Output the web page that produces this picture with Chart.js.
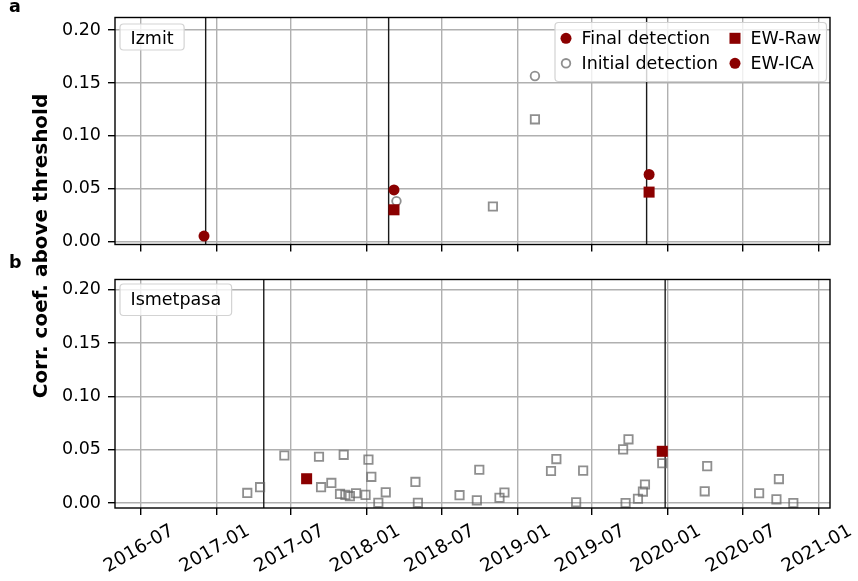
<!DOCTYPE html>
<html>
<head>
<meta charset="utf-8">
<script src="https://cdn.jsdelivr.net/npm/chart.js@4.4.1/dist/chart.umd.min.js"></script>
<style>
  html, body { margin: 0; padding: 0; background: #fff; }
  #wrap { position: relative; width: 858px; height: 581px; font-family: "DejaVu Sans", sans-serif; color: #000; }
  canvas { position: absolute; left: 0; }
  #cA { top: 0; }
  #cB { top: 262px; }
  .tag { position: absolute; font-weight: bold; font-size: 17.5px; line-height: 17px; }
  #ytitle { position: absolute; left: 40px; top: 246px; transform: translate(-50%, -50%) rotate(-90deg);
            white-space: nowrap; font-weight: bold; font-size: 20px; line-height: 22px; }
</style>
</head>
<body>
<div id="wrap">
  <canvas id="cA" width="858" height="262"></canvas>
  <canvas id="cB" width="858" height="319"></canvas>
  <div class="tag" style="left:9px; top:-2px;">a</div>
  <div class="tag" style="left:9px; top:254px;">b</div>
  <div id="ytitle">Corr. coef. above threshold</div>
</div>
<script>
// ---- axis ticks ----
const xTickLabels = ['2016-07', '2017-01', '2017-07', '2018-01', '2018-07',
                     '2019-01', '2019-07', '2020-01', '2020-07', '2021-01'];
const yTickValues = [0, 0.05, 0.10, 0.15, 0.20];
const legendLabels = ['Final detection', 'Initial detection', 'EW-Raw', 'EW-ICA'];

// ---- Izmit ----
const izmitEvents = ['2016-12-06', '2018-02-23', '2019-11-11'];
const izmitFinalIcaDates  = ['2016-12-02', '2018-03-08', '2019-11-17'];
const izmitFinalIcaValues = [0.0055, 0.0490, 0.0636];
const izmitFinalRawDates  = ['2018-03-08', '2019-11-17'];
const izmitFinalRawValues = [0.0303, 0.0470];
const izmitInitIcaDates   = ['2018-03-14', '2019-02-13'];
const izmitInitIcaValues  = [0.0385, 0.1566];
const izmitInitRawDates   = ['2018-11-03', '2019-02-13'];
const izmitInitRawValues  = [0.0334, 0.1157];

// ---- Ismetpasa ----
const ismetEvents = ['2017-04-26', '2019-12-26'];
const ismetFinalRawDates  = ['2017-08-08', '2019-12-19'];
const ismetFinalRawValues = [0.0229, 0.0486];
const ismetInitRawDates = [
  '2017-03-17', '2017-04-17', '2017-06-15', '2017-09-07', '2017-09-12', '2017-10-07',
  '2017-10-28', '2017-11-06', '2017-11-10', '2017-11-21', '2017-12-06', '2017-12-29',
  '2018-01-05', '2018-01-12', '2018-01-29', '2018-02-16', '2018-04-29', '2018-05-05',
  '2018-08-14', '2018-09-25', '2018-10-01', '2018-11-19', '2018-12-01', '2019-03-24',
  '2019-04-06', '2019-05-24', '2019-06-10', '2019-09-15', '2019-09-21', '2019-09-28',
  '2019-10-21', '2019-11-02', '2019-11-07', '2019-12-19', '2020-03-31', '2020-04-06',
  '2020-08-10', '2020-09-21', '2020-09-27', '2020-11-01'
];
const ismetInitRawValues = [
  0.0096, 0.0150, 0.0447, 0.0435, 0.0150, 0.0190,
  0.0087, 0.0453, 0.0078, 0.0066, 0.0093, 0.0078,
  0.0408, 0.0247, 0.0004, 0.0102, 0.0199, 0.0004,
  0.0075, 0.0027, 0.0313, 0.0051, 0.0100, 0.0302,
  0.0413, 0.0009, 0.0305, 0.0504, 0.0002, 0.0598,
  0.0042, 0.0109, 0.0175, 0.0374, 0.0111, 0.0347,
  0.0093, 0.0036, 0.0226, 0.0002
];

// ---- helpers ----
const toTime = s => { const [y, m, d] = s.split('-').map(Number); return Date.UTC(y, m - 1, d || 1); };
const DARKRED = '#8b0000';
const GREY = 'rgba(100,100,100,0.72)';
const FONT = '"DejaVu Sans", sans-serif';

const styles = {
  finalIca: { pointStyle: 'circle', pointRadius: 5.5, backgroundColor: DARKRED, borderColor: DARKRED, borderWidth: 0 },
  finalRaw: { pointStyle: 'rect',   pointRadius: 7.8, backgroundColor: DARKRED, borderColor: DARKRED, borderWidth: 0 },
  initIca:  { pointStyle: 'circle', pointRadius: 4.3, backgroundColor: 'rgba(0,0,0,0)', borderColor: GREY, borderWidth: 1.8 },
  initRaw:  { pointStyle: 'rect',   pointRadius: 5.9, backgroundColor: 'rgba(0,0,0,0)', borderColor: GREY, borderWidth: 1.8 }
};

function markers(label, dates, values, style) {
  return Object.assign({
    label,
    data: dates.map((d, i) => ({ x: toTime(d), y: values[i] })),
    pointHoverRadius: style.pointRadius,
    clip: false
  }, style);
}

function eventLine(date) {
  const t = toTime(date);
  return {
    label: 'event ' + date,
    data: [{ x: t, y: -1 }, { x: t, y: 1 }],
    showLine: true,
    borderColor: '#1a1a1a',
    borderWidth: 1.4,
    pointRadius: 0,
    clip: 0
  };
}

function roundRect(ctx, x, y, w, h, r) {
  ctx.beginPath();
  ctx.moveTo(x + r, y);
  ctx.arcTo(x + w, y, x + w, y + h, r);
  ctx.arcTo(x + w, y + h, x, y + h, r);
  ctx.arcTo(x, y + h, x, y, r);
  ctx.arcTo(x, y, x + w, y, r);
  ctx.closePath();
}

// frame, panel name box and marker legend
const panelDecor = {
  id: 'panelDecor',
  afterDatasetsDraw(chart) {
    const a = chart.chartArea, ctx = chart.ctx;
    ctx.save();
    ctx.strokeStyle = '#000';
    ctx.lineWidth = 1.4;
    ctx.strokeRect(a.left, a.top, a.right - a.left, a.bottom - a.top);
    ctx.restore();
  },
  afterDraw(chart, args, opts) {
    const a = chart.chartArea, ctx = chart.ctx;
    ctx.save();
    ctx.font = '17.5px ' + FONT;
    ctx.textBaseline = 'alphabetic';
    ctx.textAlign = 'left';
    // panel name
    const tw = ctx.measureText(opts.name).width;
    const bx = a.left + 5, by = a.top + opts.boxTop;
    roundRect(ctx, bx, by, tw + 21, opts.boxH, 3.5);
    ctx.fillStyle = 'rgba(255,255,255,0.8)';
    ctx.fill();
    ctx.strokeStyle = '#d3d3d3';
    ctx.lineWidth = 1.2;
    ctx.stroke();
    ctx.fillStyle = '#000';
    ctx.fillText(opts.name, a.left + 15.5, a.top + opts.baseline);

    if (opts.legend) {
      const lx = 555, ly = 22.5, lw = 271.5, lh = 59;
      roundRect(ctx, lx, ly, lw, lh, 3.5);
      ctx.fillStyle = 'rgba(255,255,255,0.8)';
      ctx.fill();
      ctx.strokeStyle = '#d3d3d3';
      ctx.lineWidth = 1.2;
      ctx.stroke();
      const entries = [
        { text: legendLabels[0], st: styles.finalIca, mx: 566, tx: 581.5, my: 38.3, ty: 44.3 },
        { text: legendLabels[1], st: styles.initIca,  mx: 566, tx: 581.5, my: 63.3, ty: 69.3 },
        { text: legendLabels[2], st: styles.finalRaw, mx: 735, tx: 750.5, my: 38.3, ty: 44.3 },
        { text: legendLabels[3], st: styles.finalIca, mx: 735, tx: 750.5, my: 63.3, ty: 69.3 }
      ];
      entries.forEach(e => {
        ctx.fillStyle = e.st.backgroundColor;
        ctx.strokeStyle = e.st.borderColor;
        ctx.lineWidth = e.st.borderWidth;
        Chart.helpers.drawPoint(ctx, {
          pointStyle: e.st.pointStyle, radius: e.st.pointRadius,
          borderWidth: e.st.borderWidth, rotation: 0
        }, e.mx, e.my);
        ctx.fillStyle = '#000';
        ctx.fillText(e.text, e.tx, e.ty);
      });
    }
    ctx.restore();
  }
};

function makeOptions(cfg) {
  return {
    responsive: false,
    animation: false,
    events: [],
    layout: { padding: { left: 0, right: 28, top: cfg.padTop, bottom: cfg.padBottom } },
    plugins: {
      legend: { display: false },
      tooltip: { enabled: false },
      panelDecor: cfg.decor
    },
    scales: {
      x: {
        type: 'linear',
        min: toTime('2016-04-30'),
        max: toTime('2021-01-29'),
        afterBuildTicks: s => { s.ticks = xTickLabels.map(l => ({ value: toTime(l) })); },
        afterFit: s => { s.height = cfg.xHeight; },
        ticks: {
          display: cfg.showXLabels,
          autoSkip: false,
          minRotation: 30,
          maxRotation: 30,
          labelOffset: 32,
          padding: 5,
          color: '#000',
          font: { family: FONT, size: 18.5 },
          callback: (v, i) => xTickLabels[i]
        },
        grid: { color: '#b0b0b0', lineWidth: 1.4, drawTicks: true, tickLength: 7, tickColor: '#000', tickWidth: 1.4 },
        border: { display: false }
      },
      y: {
        type: 'linear',
        min: cfg.yMin,
        max: cfg.yMax,
        afterBuildTicks: s => { s.ticks = yTickValues.map(v => ({ value: v })); },
        afterFit: s => { s.width = 115; },
        ticks: {
          padding: 7,
          color: '#000',
          font: { family: FONT, size: 17.5 },
          callback: v => v.toFixed(2)
        },
        grid: { color: '#b0b0b0', lineWidth: 1.4, drawTicks: true, tickLength: 7, tickColor: '#000', tickWidth: 1.4 },
        border: { display: false }
      }
    }
  };
}

Chart.register(panelDecor);

// Panel a: Izmit
new Chart(document.getElementById('cA'), {
  type: 'scatter',
  data: {
    datasets: [
      markers('EW-ICA final', izmitFinalIcaDates, izmitFinalIcaValues, styles.finalIca),
      markers('EW-Raw final', izmitFinalRawDates, izmitFinalRawValues, styles.finalRaw),
      markers('EW-ICA initial', izmitInitIcaDates, izmitInitIcaValues, styles.initIca),
      markers('EW-Raw initial', izmitInitRawDates, izmitInitRawValues, styles.initRaw),
      ...izmitEvents.map(eventLine)
    ]
  },
  options: makeOptions({
    padTop: 17.5, padBottom: 2, xHeight: 7, showXLabels: false,
    yMin: -0.00246, yMax: 0.2118,
    decor: { name: 'Izmit', boxTop: 6.5, boxH: 26, baseline: 26.8, legend: true }
  })
});

// Panel b: Ismetpasa
new Chart(document.getElementById('cB'), {
  type: 'scatter',
  data: {
    datasets: [
      markers('EW-Raw final', ismetFinalRawDates, ismetFinalRawValues, styles.finalRaw),
      markers('EW-Raw initial', ismetInitRawDates, ismetInitRawValues, styles.initRaw),
      ...ismetEvents.map(eventLine)
    ]
  },
  options: makeOptions({
    padTop: 9.5, padBottom: 0, xHeight: 73, showXLabels: true,
    yMin: -0.0045, yMax: 0.2095,
    decor: { name: 'Ismetpasa', boxTop: 4.5, boxH: 31.5, baseline: 25.2, legend: false }
  })
});
</script>
</body>
</html>
